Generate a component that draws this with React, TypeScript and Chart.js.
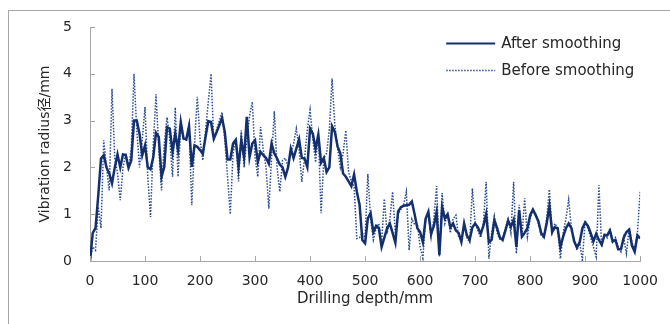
import React, { useEffect, useRef } from "react";
import { Chart, registerables } from "chart.js";

Chart.register(...registerables);

// Drilling depth (mm), one reading every 5 mm
const depths: number[] = Array.from({ length: 201 }, (_, i) => i * 5);

const afterSmoothing: number[] = [
  0, 0.6, 0.7, 1.4, 2.19, 2.26, 2.0, 1.87, 1.66, 2.0, 2.28, 2.0, 2.28, 2.26, 1.99, 2.15, 3.0, 3.0, 2.72, 2.26,
  2.47, 2.0, 1.96, 2.22, 2.74, 2.65, 1.8, 2.01, 2.86, 2.83, 2.33, 2.72, 2.37, 2.97, 2.62, 2.6, 2.88, 2.01, 2.47, 2.44,
  2.37,
  2.29, 2.65, 2.99, 2.97, 2.61, 2.75, 2.9, 3.06, 2.76, 2.17, 2.17, 2.51, 2.59, 2.01, 2.58, 2.22, 3.08, 2.22, 2.51, 2.58,
  2.12, 2.33, 2.26, 2.2, 2.08, 2.51, 2.3, 2.19, 2.06, 2.0, 1.8, 2.0, 2.4, 2.2, 2.4, 2.6, 2.2, 2.19, 2.01, 2.83,
  2.72, 2.4, 2.7, 2.1, 2.2, 1.9, 2.0, 2.88, 2.76, 2.45, 2.3, 1.87, 1.8, 1.7, 1.6, 1.85, 1.48, 1.2, 0.45, 0.38,
  0.91, 1.02, 0.62, 0.75, 0.7, 0.3, 0.5, 0.7, 0.8, 0.6, 0.39, 1.06, 1.15, 1.18, 1.19, 1.2, 1.27, 1.0, 0.7, 0.62,
  0.4, 0.9, 1.05, 0.58, 0.75, 1.05, 0.13, 1.15, 0.91, 1.0, 0.72, 0.8, 0.65, 0.6, 0.41, 0.8, 0.55, 0.45, 0.72, 0.8,
  0.72, 0.58, 0.75, 1.0, 0.4, 0.45, 0.87, 0.7, 0.5, 0.45, 0.65, 0.86, 0.73, 0.88, 0.3, 1.09, 0.52, 0.6, 0.7, 0.98,
  1.1, 0.98, 0.85, 0.6, 0.52, 0.8, 1.17, 0.62, 0.72, 0.7, 0.3, 0.52, 0.7, 0.8, 0.7, 0.42, 0.29, 0.4, 0.7, 0.82,
  0.75, 0.6, 0.42, 0.58, 0.45, 0.35, 0.55, 0.55, 0.65, 0.42, 0.45, 0.25, 0.25, 0.5, 0.62, 0.67, 0.33, 0.2, 0.55, 0.48,
];

const beforeSmoothing: number[] = [
  0, 0.3, 0.23, 1.16, 0.7, 2.58, 2.0, 1.51, 3.68, 2.2, 1.87, 1.3, 2.0, 2.3, 2.0, 2.4, 4.0, 2.8, 2.0, 2.6,
  3.29, 1.8, 0.94, 2.5, 3.56, 2.4, 1.51, 2.5, 3.07, 2.6, 1.8, 3.28, 1.8, 2.86, 2.6, 2.58, 2.9, 1.19, 2.5, 3.51,
  2.6,
  2.15, 2.79, 3.4, 4.0, 2.58, 2.8, 3.0, 3.18, 2.58, 1.8, 1.0, 2.3, 2.61, 1.7, 2.79, 2.0, 2.6, 3.1, 3.4, 2.22,
  1.8, 2.86, 2.37, 2.0, 1.12, 2.2, 3.2, 2.0, 1.48, 2.15, 2.2, 2.0, 2.3, 2.5, 2.83, 2.4, 1.69, 2.2, 2.8, 3.23,
  2.6, 2.11, 2.7, 1.02, 2.2, 2.3, 2.8, 3.9, 2.9, 2.4, 2.0, 2.3, 2.79, 1.9, 1.7, 1.6, 0.48, 0.5, 0.6, 0.5,
  1.86, 0.9, 0.45, 0.7, 0.8, 0.4, 1.33, 0.58, 0.9, 1.48, 0.58, 1.0, 1.1, 1.2, 1.48, 0.23, 0.9, 0.78, 0.8, 0.3,
  0.06, 0.9, 1.0, 0.5, 0.9, 1.6, 0.09, 1.45, 0.8, 1.0, 0.6, 0.9, 0.98, 0.5, 0.45, 0.8, 0.5, 0.4, 1.55, 0.8,
  0.65, 0.5, 0.8, 1.69, 0.05, 0.6, 0.96, 0.6, 0.45, 0.5, 0.7, 0.9, 0.6, 1.69, 0.16, 1.2, 0.5, 1.34, 0.52, 0.9,
  1.1, 1.0, 0.8, 0.55, 0.5, 0.9, 1.53, 0.6, 0.8, 0.7, 0.05, 0.6, 0.9, 1.31, 0.7, 0.45, 0.23, 0.4, 0.02, 0.87,
  0.7, 0.5, 0.3, 0.09, 1.62, 0.3, 0.6, 0.5, 0.7, 0.4, 0.5, 0.3, 0.2, 0.5, 0.16, 0.7, 0.4, 0.25, 0.6, 1.48,
];

const xTicks: number[] = [0, 100, 200, 300, 400, 500, 600, 700, 800, 900, 1000];
const yTicks: number[] = [0, 1, 2, 3, 4, 5];
const seriesNames: string[] = ["After smoothing", "Before smoothing"];
const xTitle = "Drilling depth/mm";
const yTitle = "Vibration radius径/mm";

const FONT = "'DejaVu Sans', 'Noto Sans CJK SC', sans-serif";
const SOLID = "#132f6e";
const DOTTED = "#2a4a8e";
const AXIS = "#a6a6a6";
const TEXT = "#262626";

const innerTicks = {
  id: "innerTicks",
  afterDraw(chart: any) {
    const { ctx, chartArea, scales } = chart;
    ctx.save();
    ctx.strokeStyle = AXIS;
    ctx.lineWidth = 1;
    for (const v of xTicks) {
      const px = Math.round(scales.x.getPixelForValue(v)) + 0.5;
      ctx.beginPath();
      ctx.moveTo(px, chartArea.bottom);
      ctx.lineTo(px, chartArea.bottom - 5);
      ctx.stroke();
    }
    for (const v of yTicks) {
      const py = Math.round(scales.y.getPixelForValue(v)) + 0.5;
      ctx.beginPath();
      ctx.moveTo(chartArea.left, py);
      ctx.lineTo(chartArea.left + 5, py);
      ctx.stroke();
    }
    ctx.restore();
  },
};

const customLegend = {
  id: "customLegend",
  afterDraw(chart: any) {
    const { ctx, chartArea } = chart;
    const x0 = chartArea.right - 194;
    const y0 = chartArea.top + 16;
    chart.data.datasets.forEach((ds: any, i: number) => {
      const y = y0 + i * 27;
      ctx.save();
      ctx.strokeStyle = ds.borderColor;
      ctx.lineWidth = i === 0 ? 2 : 1.5;
      ctx.setLineDash(i === 0 ? [] : [1.5, 1.5]);
      ctx.beginPath();
      ctx.moveTo(x0, y + 0.5);
      ctx.lineTo(x0 + 49, y + 0.5);
      ctx.stroke();
      ctx.setLineDash([]);
      ctx.fillStyle = TEXT;
      ctx.font = `15px ${FONT}`;
      ctx.textBaseline = "middle";
      ctx.textAlign = "left";
      ctx.fillText(ds.label, x0 + 55, y + 1);
      ctx.restore();
    });
  },
};

export default function App() {
  const canvasRef = useRef<HTMLCanvasElement | null>(null);

  useEffect(() => {
    if (!canvasRef.current) return;
    const chart = new Chart(canvasRef.current, {
      type: "line",
      data: {
        datasets: [
          {
            label: seriesNames[0],
            data: depths.map((d, i) => ({ x: d, y: afterSmoothing[i] })),
            borderColor: SOLID,
            borderWidth: 2.5,
            pointRadius: 0,
            tension: 0,
            fill: false,
          },
          {
            label: seriesNames[1],
            data: depths.map((d, i) => ({ x: d, y: beforeSmoothing[i] })),
            borderColor: DOTTED,
            borderWidth: 1.5,
            borderDash: [1.5, 1.5],
            pointRadius: 0,
            tension: 0,
            fill: false,
          },
        ],
      },
      options: {
        animation: false,
        responsive: false,
        devicePixelRatio: 1,
        layout: { padding: { left: 0, top: 27, right: 28, bottom: 0 } },
        plugins: {
          legend: { display: false },
          tooltip: { enabled: false },
        },
        scales: {
          x: {
            type: "linear",
            min: 0,
            max: 1000,
            afterFit: (s: any) => {
              s.height = 63;
            },
            afterBuildTicks: (s: any) => {
              s.ticks = xTicks.map((v) => ({ value: v }));
            },
            ticks: {
              color: TEXT,
              font: { family: FONT, size: 14 },
              padding: 12,
              maxRotation: 0,
              autoSkip: false,
              callback: (v: any) => String(v),
            },
            grid: { display: true, drawOnChartArea: false, drawTicks: false },
            border: { display: true, color: AXIS, width: 1 },
            title: {
              display: true,
              text: xTitle,
              color: TEXT,
              font: { family: FONT, size: 15 },
              padding: { top: 0, bottom: 16 },
            },
          },
          y: {
            type: "linear",
            min: 0,
            max: 5,
            afterFit: (s: any) => {
              s.width = 90;
            },
            afterBuildTicks: (s: any) => {
              s.ticks = yTicks.map((v) => ({ value: v }));
            },
            ticks: {
              color: TEXT,
              font: { family: FONT, size: 14 },
              padding: 18,
              callback: (v: any) => String(v),
            },
            grid: { display: true, drawOnChartArea: false, drawTicks: false },
            border: { display: true, color: AXIS, width: 1 },
            title: {
              display: true,
              text: yTitle,
              color: TEXT,
              font: { family: FONT, size: 14 },
              padding: { top: 37, bottom: 0 },
            },
          },
        },
      },
      plugins: [innerTicks, customLegend],
    } as any);
    return () => chart.destroy();
  }, []);

  return (
    <div style={{ position: "absolute", left: 0, top: 0, width: 670, height: 324, overflow: "hidden", background: "#fff" }}>
      <div
        style={{
          position: "absolute",
          left: 8,
          top: 10,
          width: 700,
          height: 400,
          borderLeft: "1px solid #a6a6a6",
          borderTop: "1px solid #a6a6a6",
        }}
      />
      <canvas ref={canvasRef} width={670} height={324} style={{ position: "absolute", left: 0, top: 0, width: 670, height: 324 }} />
    </div>
  );
}
